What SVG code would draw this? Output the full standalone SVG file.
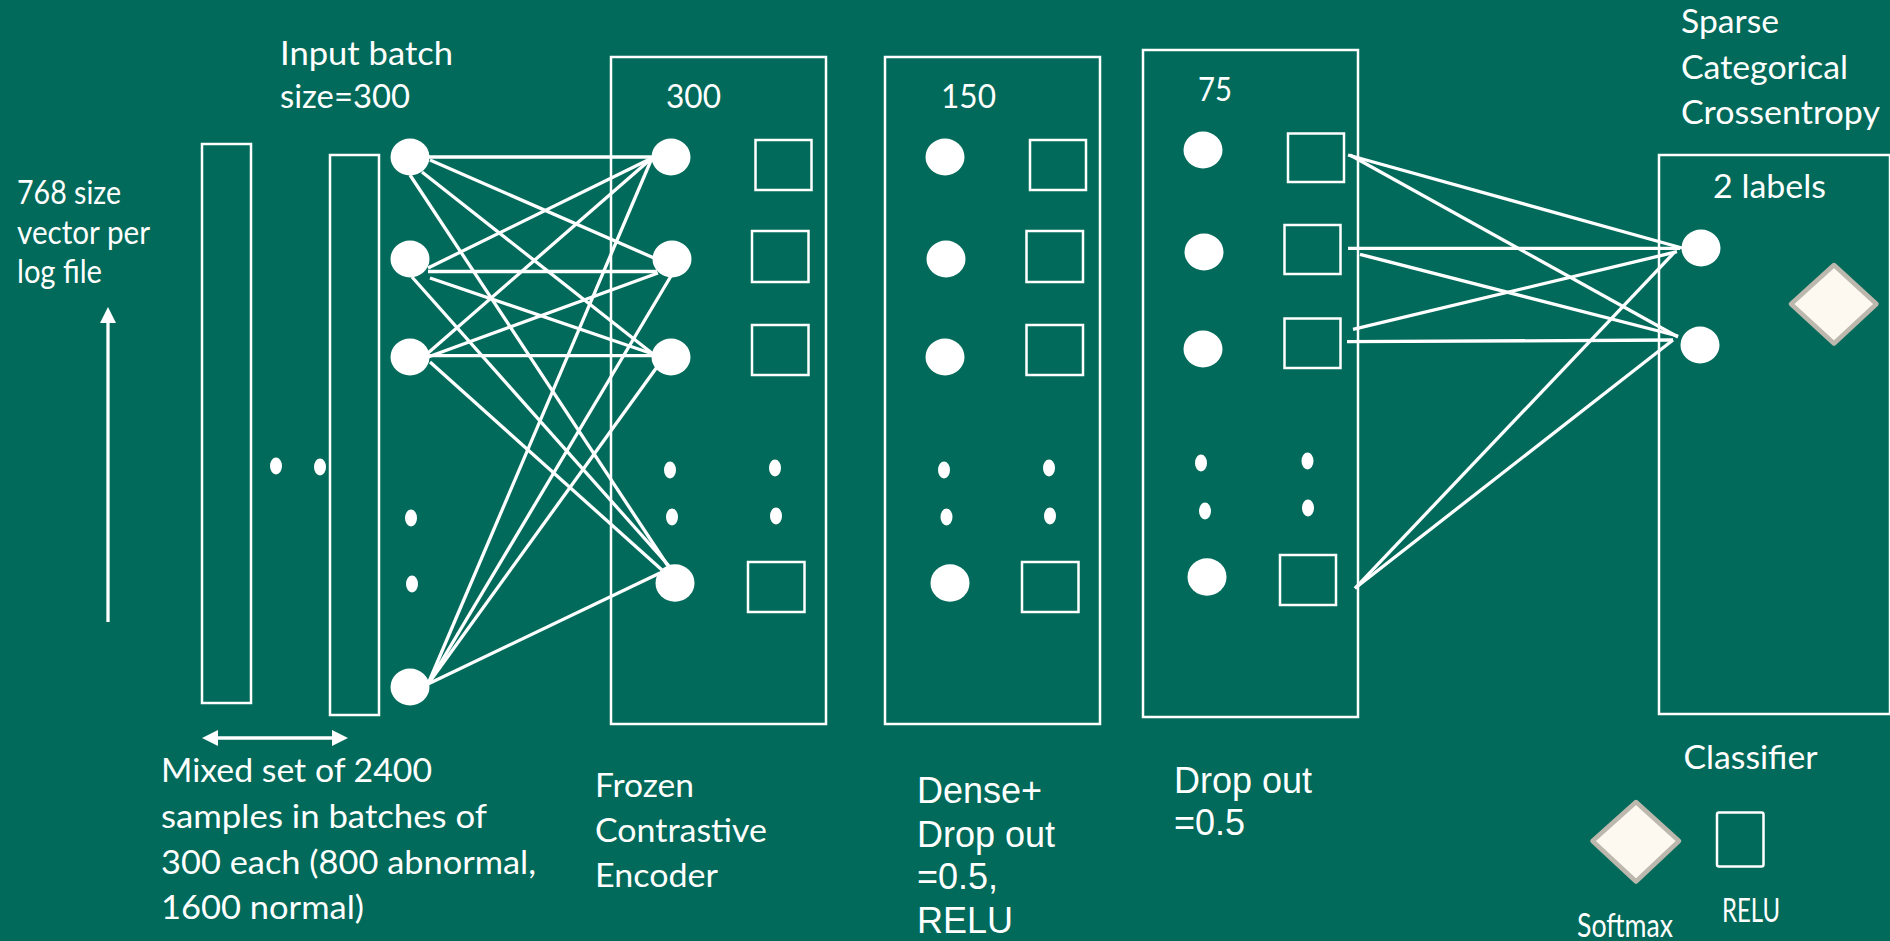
<svg xmlns="http://www.w3.org/2000/svg" width="1890" height="941" viewBox="0 0 1890 941">
  <style>
    .bg { fill: #016a5a; }
    .box { fill: none; stroke: #ffffff; stroke-width: 2.5; }
    .unit { fill: #ffffff; }
    .edge { stroke: #ffffff; stroke-width: 3.3; stroke-linecap: butt; }
    .soft { fill: #fdf9f0; stroke: #bdb8ad; stroke-width: 4.5; stroke-linejoin: round; }
    .t { font-family: Lato, "Open Sans", "Liberation Sans", sans-serif; fill: #ffffff; font-size: 32px; }
    .a { font-family: "Liberation Sans", Arial, sans-serif; fill: #ffffff; font-size: 36px; }
  </style>
  <defs>
    <marker id="tip" viewBox="0 0 16 16" refX="0" refY="8" markerWidth="16" markerHeight="16" markerUnits="userSpaceOnUse" orient="auto-start-reverse">
      <path d="M0,0 L16,8 L0,16 z" fill="#ffffff"/>
    </marker>
  </defs>

  <rect class="bg" x="0" y="0" width="1890" height="941"/>

  <!-- input data: feature-vector axis and sample batches -->
  <g id="input-data">
    <text class="t" font-size="28" x="17" y="204" textLength="104" lengthAdjust="spacingAndGlyphs">768 size</text>
    <text class="t" font-size="28" x="17" y="244" textLength="133" lengthAdjust="spacingAndGlyphs">vector per</text>
    <text class="t" font-size="28" x="17" y="283" textLength="85" lengthAdjust="spacingAndGlyphs">log file</text>
    <line class="edge" x1="108" y1="622" x2="108" y2="323" marker-end="url(#tip)"/>
    <rect class="box" x="202" y="144" width="49" height="559"/>
    <rect class="box" x="330" y="155" width="49" height="560"/>
    <ellipse class="unit" cx="276" cy="466" rx="6" ry="8.5"/>
    <ellipse class="unit" cx="320" cy="467" rx="6" ry="8.5"/>
    <line class="edge" x1="218" y1="738" x2="332" y2="738" marker-start="url(#tip)" marker-end="url(#tip)"/>
    <text class="t" font-size="30" x="161" y="782" textLength="271" lengthAdjust="spacingAndGlyphs">Mixed set of 2400</text>
    <text class="t" font-size="30" x="161" y="828" textLength="326" lengthAdjust="spacingAndGlyphs">samples in batches of</text>
    <text class="t" font-size="30" x="161" y="874" textLength="375" lengthAdjust="spacingAndGlyphs">300 each (800 abnormal,</text>
    <text class="t" font-size="30" x="161" y="919" textLength="203" lengthAdjust="spacingAndGlyphs">1600 normal)</text>
  </g>

  <!-- input layer -->
  <g id="input-layer">
    <text class="t" x="280" y="65" textLength="173" lengthAdjust="spacingAndGlyphs">Input batch</text>
    <text class="t" x="280" y="108" textLength="130" lengthAdjust="spacingAndGlyphs">size=300</text>
    <ellipse class="unit" cx="410" cy="157" rx="19.5" ry="18.5"/>
    <ellipse class="unit" cx="410" cy="259" rx="19.5" ry="18.5"/>
    <ellipse class="unit" cx="410" cy="357" rx="19.5" ry="18.5"/>
    <ellipse class="unit" cx="411" cy="518" rx="6" ry="8.5"/>
    <ellipse class="unit" cx="412" cy="584" rx="6" ry="8.5"/>
    <ellipse class="unit" cx="410" cy="687" rx="19.5" ry="18.5"/>
  </g>

  <!-- frozen contrastive encoder, 300 units -->
  <g id="encoder-layer">
    <rect class="box" x="611" y="57" width="215" height="667"/>
    <text class="t" x="666" y="108" textLength="55" lengthAdjust="spacingAndGlyphs">300</text>
    <ellipse class="unit" cx="671" cy="157" rx="19.5" ry="18.5"/>
    <ellipse class="unit" cx="672" cy="259" rx="19.5" ry="18.5"/>
    <ellipse class="unit" cx="671" cy="357" rx="19.5" ry="18.5"/>
    <ellipse class="unit" cx="670" cy="470" rx="6" ry="8.5"/>
    <ellipse class="unit" cx="672" cy="517" rx="6" ry="8.5"/>
    <ellipse class="unit" cx="675" cy="583" rx="19.5" ry="18.7"/>
    <rect class="box" x="755.5" y="140" width="56" height="50"/>
    <rect class="box" x="752" y="231" width="56.5" height="51"/>
    <rect class="box" x="752" y="325" width="56.5" height="50"/>
    <ellipse class="unit" cx="775" cy="468" rx="6" ry="8.5"/>
    <ellipse class="unit" cx="776" cy="516" rx="6" ry="8.5"/>
    <rect class="box" x="748" y="562" width="56.5" height="50"/>
    <text class="t" font-size="30" x="595" y="797" textLength="99" lengthAdjust="spacingAndGlyphs">Frozen</text>
    <text class="t" font-size="30" x="595" y="842" textLength="172" lengthAdjust="spacingAndGlyphs">Contrastive</text>
    <text class="t" font-size="30" x="595" y="887" textLength="123" lengthAdjust="spacingAndGlyphs">Encoder</text>
  </g>

  <!-- dense layer, 150 units -->
  <g id="dense-layer">
    <rect class="box" x="885" y="57" width="215" height="667"/>
    <text class="t" x="941" y="108" textLength="55" lengthAdjust="spacingAndGlyphs">150</text>
    <ellipse class="unit" cx="945" cy="157" rx="19.5" ry="18.5"/>
    <ellipse class="unit" cx="946" cy="259" rx="19.5" ry="18.5"/>
    <ellipse class="unit" cx="945" cy="357" rx="19.5" ry="18.5"/>
    <ellipse class="unit" cx="944" cy="470" rx="6" ry="8.5"/>
    <ellipse class="unit" cx="946.5" cy="517" rx="6" ry="8.5"/>
    <ellipse class="unit" cx="950" cy="583" rx="19.5" ry="18.7"/>
    <rect class="box" x="1030" y="140" width="56" height="50"/>
    <rect class="box" x="1026.5" y="231" width="56.5" height="51"/>
    <rect class="box" x="1026.5" y="325" width="56.5" height="50"/>
    <ellipse class="unit" cx="1049" cy="468" rx="6" ry="8.5"/>
    <ellipse class="unit" cx="1050" cy="516" rx="6" ry="8.5"/>
    <rect class="box" x="1022" y="562" width="56.5" height="50"/>
    <text class="a" x="917" y="803">Dense+</text>
    <text class="a" x="917" y="847">Drop out</text>
    <text class="a" x="917" y="889">=0.5,</text>
    <text class="a" x="917" y="933">RELU</text>
  </g>

  <!-- dropout layer, 75 units -->
  <g id="dropout-layer">
    <rect class="box" x="1143" y="50" width="215" height="667"/>
    <text class="t" x="1198" y="101" textLength="34" lengthAdjust="spacingAndGlyphs">75</text>
    <ellipse class="unit" cx="1203" cy="150" rx="19.5" ry="18.5"/>
    <ellipse class="unit" cx="1204" cy="252" rx="19.5" ry="18.5"/>
    <ellipse class="unit" cx="1203" cy="349" rx="19.5" ry="18.5"/>
    <ellipse class="unit" cx="1201" cy="463" rx="6" ry="8.5"/>
    <ellipse class="unit" cx="1205" cy="511" rx="6" ry="8.5"/>
    <ellipse class="unit" cx="1207" cy="577" rx="19.5" ry="18.7"/>
    <rect class="box" x="1288" y="133.5" width="56" height="48.5"/>
    <rect class="box" x="1284.5" y="225" width="56" height="49"/>
    <rect class="box" x="1284.5" y="318.5" width="56" height="49.5"/>
    <ellipse class="unit" cx="1307.5" cy="461" rx="6" ry="8.5"/>
    <ellipse class="unit" cx="1308" cy="508" rx="6" ry="8.5"/>
    <rect class="box" x="1280" y="555" width="56" height="50"/>
    <text class="a" x="1174" y="793">Drop out</text>
    <text class="a" x="1174" y="835">=0.5</text>
  </g>

  <!-- classifier, 2 labels -->
  <g id="classifier-layer">
    <text class="t" x="1681" y="33" textLength="98" lengthAdjust="spacingAndGlyphs">Sparse</text>
    <text class="t" x="1681" y="79" textLength="167" lengthAdjust="spacingAndGlyphs">Categorical</text>
    <text class="t" x="1681" y="124" textLength="199" lengthAdjust="spacingAndGlyphs">Crossentropy</text>
    <rect class="box" x="1659" y="155" width="231" height="559"/>
    <text class="t" x="1713" y="198" textLength="113" lengthAdjust="spacingAndGlyphs">2 labels</text>
    <ellipse class="unit" cx="1701" cy="248" rx="19.5" ry="18.5"/>
    <ellipse class="unit" cx="1700" cy="345" rx="19.5" ry="18.5"/>
    <path class="soft" d="M1834,265 L1876.5,304 L1834,343.5 L1791,304 z"/>
    <text class="t" x="1683.5" y="769" textLength="134" lengthAdjust="spacingAndGlyphs">Classifier</text>
  </g>

  <!-- legend -->
  <g id="legend">
    <path class="soft" d="M1636,802 L1679,841 L1636,881.5 L1592.5,841 z"/>
    <rect class="box" x="1717" y="812.5" width="46.5" height="54" rx="2"/>
    <text class="t" font-size="26" x="1577" y="937" textLength="96" lengthAdjust="spacingAndGlyphs">Softmax</text>
    <text class="t" font-size="25" x="1722" y="922" textLength="58" lengthAdjust="spacingAndGlyphs">RELU</text>
  </g>

  <!-- connections -->
  <g id="connectors">
    <!-- input layer to encoder -->
    <line class="edge" x1="429" y1="157" x2="652" y2="157"/>
    <line class="edge" x1="430" y1="160" x2="654" y2="258"/>
    <line class="edge" x1="422" y1="172" x2="653" y2="354"/>
    <line class="edge" x1="410" y1="175" x2="668" y2="566"/>
    <line class="edge" x1="428" y1="268" x2="652" y2="158"/>
    <line class="edge" x1="428" y1="271.5" x2="657" y2="271.5"/>
    <line class="edge" x1="430" y1="278" x2="650" y2="353"/>
    <line class="edge" x1="412" y1="277" x2="670" y2="567"/>
    <line class="edge" x1="428" y1="353" x2="652" y2="158"/>
    <line class="edge" x1="428" y1="357" x2="658" y2="273"/>
    <line class="edge" x1="428" y1="355.7" x2="652" y2="355.7"/>
    <line class="edge" x1="430" y1="362" x2="662" y2="570"/>
    <line class="edge" x1="428" y1="684" x2="652" y2="158"/>
    <line class="edge" x1="428" y1="684" x2="671" y2="276"/>
    <line class="edge" x1="428" y1="684" x2="657" y2="367"/>
    <line class="edge" x1="428" y1="684" x2="660" y2="573"/>
    <!-- dropout layer to classifier -->
    <line class="edge" x1="1348" y1="155" x2="1682" y2="248"/>
    <line class="edge" x1="1350" y1="155" x2="1678" y2="337"/>
    <line class="edge" x1="1348" y1="248.3" x2="1680" y2="248.3"/>
    <line class="edge" x1="1360" y1="254.3" x2="1678" y2="336"/>
    <line class="edge" x1="1353" y1="329.3" x2="1677" y2="251.7"/>
    <line class="edge" x1="1347" y1="341.7" x2="1673" y2="340"/>
    <line class="edge" x1="1355" y1="588.3" x2="1675" y2="251.7"/>
    <line class="edge" x1="1355" y1="588.3" x2="1673" y2="340"/>
  </g>
</svg>
